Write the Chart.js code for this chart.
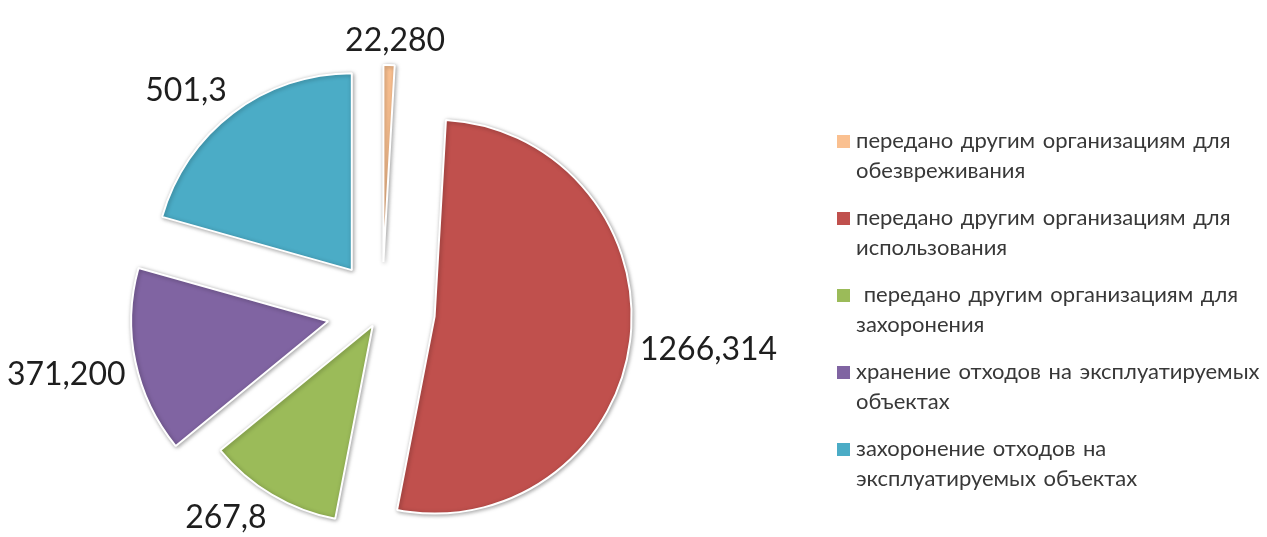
<!DOCTYPE html>
<html lang="ru">
<head>
<meta charset="utf-8">
<script src="https://cdn.jsdelivr.net/npm/chart.js@4.4.0/dist/chart.umd.min.js"></script>
<style>
    html, body { margin: 0; padding: 0; background: #fff; }
    .wrap { position: relative; width: 1267px; height: 537px; overflow: hidden; }
    #wasteChart { position: absolute; left: 0; top: 0; }
    .legend { position: absolute; left: 837px; top: 125px; width: 439px; font-family: Lato, "Noto Sans", sans-serif; font-size: 22px; line-height: 30px; color: #383838; }
    .legend-item { position: relative; padding-left: 19px; margin-bottom: 17px; word-spacing: 2px; white-space: pre-wrap; }
    .legend-item i { position: absolute; left: 0; top: 10px; width: 13px; height: 13px; }
</style>
</head>
<body>
<div class="wrap">
    <canvas id="wasteChart" width="1267" height="537"></canvas>
    <div class="legend" id="wasteLegend"></div>
</div>
<script>
// data
const categories = [
    'передано другим организациям для обезвреживания',
    'передано другим организациям для использования',
    ' передано другим организациям для захоронения',
    'хранение отходов на эксплуатируемых объектах',
    'захоронение отходов на эксплуатируемых объектах',
];
const amounts = [22.28, 1266.314, 267.8, 371.2, 501.3];
const amountLabels = ['22,280', '1266,314', '267,8', '371,200', '501,3'];

// style
const colors = ['#FAC090', '#C0504D', '#9BBB59', '#8064A2', '#4BACC6'];
const explode = [48, 53, 18, 55, 50];
const LABEL_GAP = 10;
const FONT = 'Lato, "Noto Sans", sans-serif';

document.addEventListener('DOMContentLoaded', () => {

    // pull each slice out along its middle angle
    const explodePlugin = {
        id: 'explode',
        afterDatasetUpdate(chart, args) {
            args.meta.data.forEach((arc, i) => {
                const mid = (arc.startAngle + arc.endAngle) / 2;
                arc.x += Math.cos(mid) * explode[i];
                arc.y += Math.sin(mid) * explode[i];
            });
        },
    };

    const shadowPlugin = {
        id: 'sliceShadow',
        beforeDatasetDraw(chart) {
            const { ctx } = chart;
            ctx.save();
            ctx.shadowColor = 'rgba(0,0,0,0.35)';
            ctx.shadowBlur = 4;
            ctx.shadowOffsetX = 1;
            ctx.shadowOffsetY = 1;
        },
        afterDatasetDraw(chart) {
            chart.ctx.restore();
        },
    };

    const clamp = (v) => Math.max(-1, Math.min(1, v));

    // value labels just outside each slice, box corner towards the pie
    const valueLabelPlugin = {
        id: 'valueLabels',
        afterDatasetsDraw(chart) {
            const { ctx } = chart;
            const arcs = chart.getDatasetMeta(0).data;
            ctx.save();
            ctx.font = '32px ' + FONT;
            ctx.fillStyle = '#1e1e1e';
            ctx.textAlign = 'center';
            ctx.textBaseline = 'middle';
            arcs.forEach((arc, i) => {
                const text = amountLabels[i];
                const mid = (arc.startAngle + arc.endAngle) / 2;
                const ux = Math.cos(mid), uy = Math.sin(mid);
                const hw = ctx.measureText(text).width / 2;
                const hh = 14;
                const d = arc.outerRadius + LABEL_GAP;
                const x = arc.x + ux * d + hw * clamp(ux * 4);
                const y = arc.y + uy * d + hh * clamp(uy * 4);
                ctx.fillText(text, x, y);
            });
            ctx.restore();
        },
    };

    new Chart(document.getElementById('wasteChart'), {
        type: 'pie',
        data: {
            labels: categories,
            datasets: [{
                data: amounts,
                backgroundColor: colors,
                borderColor: '#ffffff',
                borderWidth: 2,
            }],
        },
        options: {
            responsive: false,
            animation: false,
            events: [],
            radius: 197,
            layout: { padding: { left: 182, top: 110, right: 685, bottom: 27 } },
            plugins: { legend: { display: false }, tooltip: { enabled: false } },
        },
        plugins: [explodePlugin, shadowPlugin, valueLabelPlugin],
    });

    document.getElementById('wasteLegend').innerHTML = categories.map((c, i) =>
        `<div class="legend-item"><i style="background:${colors[i]}"></i>${c}</div>`).join('');
});
</script>
</body>
</html>
